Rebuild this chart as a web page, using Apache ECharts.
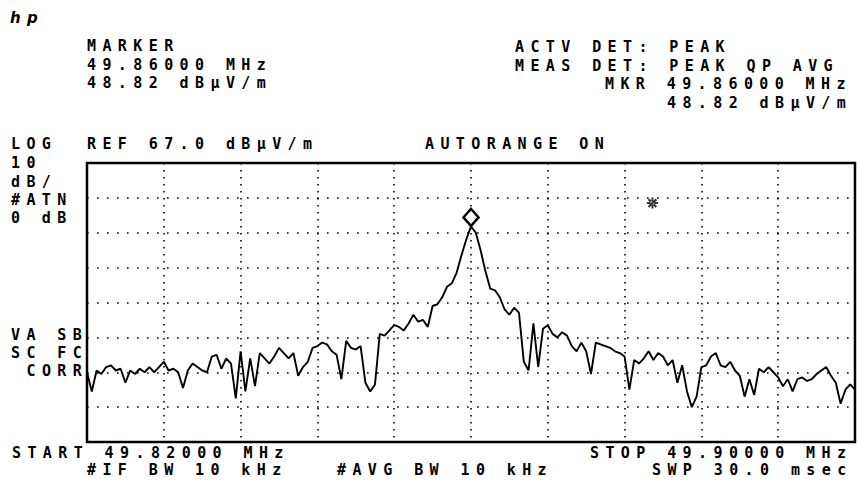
<!DOCTYPE html>
<html><head><meta charset="utf-8">
<script src="https://cdn.jsdelivr.net/npm/echarts@6/dist/echarts.min.js"></script>
<style>
html,body{margin:0;padding:0;background:#fff}
#c{width:857px;height:485px}
#c text{letter-spacing:6.4px}
</style>
</head><body><div id="c"></div><script>
// ---- data ----
var startMHz = 49.82;
var stopMHz = 49.90;
var refLevel = 67.0;          // dBuV/m at top graticule
var dbPerDiv = 10;
var stepKHz = 0.5;            // spacing of the trace samples
var traceLevels = [
 7.0, 1.5, 7.5, 6.5, 8.5, 9.0, 7.5, 8.0, 4.0, 7.5,
 6.5, 8.0, 7.0, 8.5, 7.0, 8.5, 10.0, 7.5, 8.0, 7.0,
 2.5, 7.5, 9.5, 8.5, 7.5, 7.0, 11.5, 12.0, 8.0, 11.0,
 9.5, -0.5, 13.0, 1.5, 11.0, 3.0, 12.5, 11.0, 9.5, 11.5,
 14.0, 12.5, 11.0, 12.5, 6.0, 8.5, 10.0, 14.0, 14.5, 15.5,
 15.0, 13.0, 12.0, 5.0, 16.0, 14.0, 13.5, 14.5, 4.0, 1.5,
 3.5, 18.0, 17.5, 19.0, 20.5, 20.0, 19.0, 21.0, 23.5, 21.5,
 22.0, 20.0, 26.0, 26.5, 28.5, 31.5, 32.5, 35.5, 40.5, 45.0,
 48.82, 47.0, 42.0, 36.0, 31.0, 30.5, 28.5, 25.0, 23.5, 25.5,
 24.0, 10.0, 7.5, 21.0, 8.5, 19.5, 20.5, 18.0, 17.0, 18.5,
 17.5, 14.5, 13.0, 15.5, 13.0, 6.5, 15.5, 15.0, 14.5, 14.0,
 13.0, 12.5, 11.5, 2.0, 10.5, 9.5, 11.0, 13.0, 10.5, 12.5,
 11.5, 9.0, 10.5, 4.0, 9.0, 1.5, -3.0, 0.0, 8.5, 9.0,
 11.5, 12.5, 9.0, 8.5, 10.0, 7.5, 6.0, 0.0, 5.0, 0.5,
 8.0, 7.0, 8.5, 7.0, 5.5, 3.0, 5.0, 1.5, 5.0, 5.5,
 4.5, 5.0, 6.5, 7.5, 8.5, 6.0, 4.0, -2.0, 2.0, 3.5,
 2.0
];
var markerMHz = 49.86000;
var markerLevel = 48.82;
var starMHz = 49.8789;
var starLevel = 55.5;

var headerLeft = ['MARKER', '49.86000 MHz', '48.82 dB\u00b5V/m'];
var headerRight = ['ACTV DET: PEAK', 'MEAS DET: PEAK QP AVG', 'MKR 49.86000 MHz', '48.82 dB\u00b5V/m'];
var sideTop = ['LOG', '10', 'dB/', '#ATN', '0 dB'];
var sideBottom = ['VA SB', 'SC FC', 'CORR'];
var refText = 'REF 67.0 dB\u00b5V/m';
var autoText = 'AUTORANGE ON';
var footer = ['START 49.82000 MHz', '#IF BW 10 kHz', '#AVG BW 10 kHz', 'STOP 49.90000 MHz', 'SWP 30.0 msec'];

// ---- build ----
var spanKHz = (stopMHz - startMHz) * 1000;
var seriesData = traceLevels.map(function (v, i) { return [i * stepKHz, v - refLevel]; });
var FONT = 'bold 15px "DejaVu Sans Mono", monospace';
function txt(s, x, y) {
  return { type: 'text', x: x, y: y, silent: true,
    style: { text: s, font: FONT, fill: '#000', verticalAlign: 'middle', textVerticalAlign: 'middle', align: 'left' } };
}
var g = [];
g.push({ type: 'text', x: 10, y: 18, silent: true,
  style: { text: 'hp', font: 'italic bold 15px "DejaVu Sans", sans-serif', fill: '#000', verticalAlign: 'middle', textVerticalAlign: 'middle' } });
var rowY = [46, 64.5, 83, 101.5];
headerLeft.forEach(function (s, i) { g.push(txt(s, 87, rowY[i])); });
var rightX = [515, 515, 605, 667];
headerRight.forEach(function (s, i) { g.push(txt(s, rightX[i], rowY[i] + 1)); });
var sideY = [144, 163, 182, 200, 218];
sideTop.forEach(function (s, i) { g.push(txt(s, 11, sideY[i])); });
g.push(txt(refText, 87, 144));
g.push(txt(autoText, 425, 144));
var sbY = [335, 353, 371];
var sbX = [11, 11, 26.5];
sideBottom.forEach(function (s, i) { g.push(txt(s, sbX[i], sbY[i])); });
g.push(txt(footer[0], 12, 453));
g.push(txt(footer[1], 87, 470));
g.push(txt(footer[2], 337, 470));
g.push(txt(footer[3], 590, 453));
g.push(txt(footer[4], 652, 470));

var chart = echarts.init(document.getElementById('c'), null, { renderer: 'svg' });
chart.setOption({
  animation: false,
  backgroundColor: '#fff',
  grid: { left: 87, right: 2, top: 163, bottom: 43, show: true, borderColor: '#000', borderWidth: 2.5, backgroundColor: 'transparent' },
  xAxis: {
    type: 'value', min: 0, max: spanKHz, interval: spanKHz / 10,
    axisLine: { show: false }, axisTick: { show: false }, axisLabel: { show: false },
    splitLine: { show: true, lineStyle: { color: '#000', width: 1.6, type: [1.6, 5.4] } }
  },
  yAxis: {
    type: 'value', min: -8 * dbPerDiv, max: 0, interval: dbPerDiv,
    axisLine: { show: false }, axisTick: { show: false }, axisLabel: { show: false },
    splitLine: { show: true, lineStyle: { color: '#000', width: 1.6, type: [1.6, 8.4] } }
  },
  series: [
    {
      type: 'line', data: seriesData, showSymbol: false, symbol: 'none',
      lineStyle: { color: '#000', width: 1.9 }, z: 3,
      markPoint: {
        silent: true,
        symbol: 'diamond', symbolSize: [15, 17], symbolOffset: [0, -9],
        itemStyle: { color: '#fff', borderColor: '#000', borderWidth: 2.5 },
        label: { show: false },
        data: [{ coord: [(markerMHz - startMHz) * 1000, markerLevel - refLevel] }]
      }
    },
    {
      type: 'scatter', silent: true, z: 4,
      data: [[(starMHz - startMHz) * 1000, starLevel - refLevel]],
      symbol: 'path://M-5,-0.9H5V0.9H-5Z M-0.9,-5H0.9V5H-0.9Z M-4.2,-2.9L2.9,4.2L4.2,2.9L-2.9,-4.2Z M2.9,-4.2L4.2,-2.9L-2.9,4.2L-4.2,2.9Z',
      symbolSize: 11,
      itemStyle: { color: '#000' }
    }
  ],
  graphic: g
});
</script></body></html>
